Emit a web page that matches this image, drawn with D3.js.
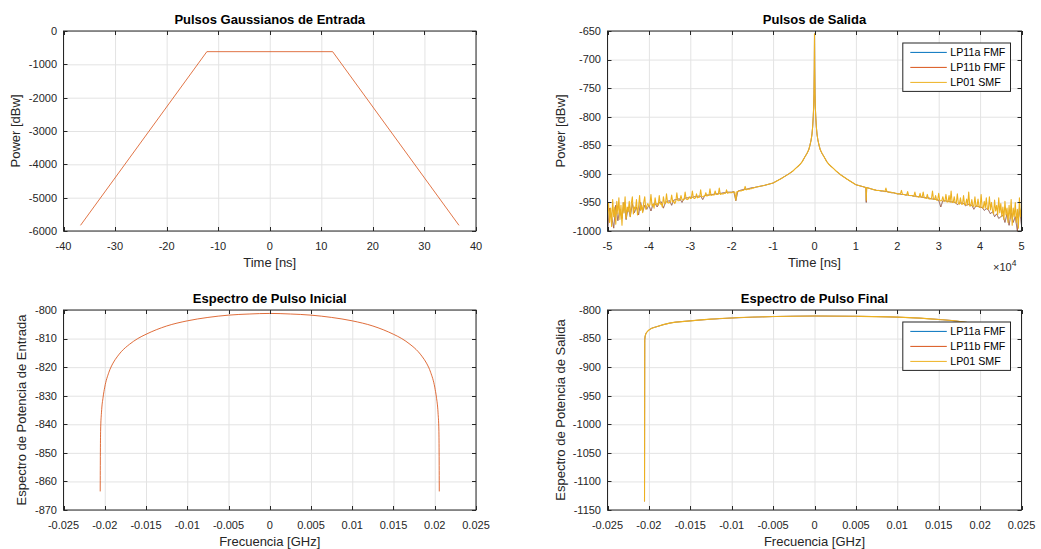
<!DOCTYPE html>
<html>
<head>
<meta charset="utf-8">
<script src="https://cdn.jsdelivr.net/npm/d3@7"></script>
<style>
  html, body { margin: 0; padding: 0; background: #ffffff; }
  svg { display: block; font-family: "Liberation Sans", Arial, Helvetica, sans-serif; }
</style>
</head>
<body>
<svg id="fig" width="1041" height="549"></svg>
<script>
// ---------- Input Gaussian pulse (time in ns, power in dBw) ----------
const inputTime  = [-36.7, -12.2, 12.2, 36.7];
const inputPower = [-5830, -620, -620, -5830];

// ---------- Output pulses (time in ns) ----------
// noisy tails: FMF modes sampled every 500 ns, SMF mode every 250 ns
const tailLeftTimeFMF  = d3.range(-50000, -14250, 500);
const tailRightTimeFMF = d3.range(14500, 50250, 500);
const tailLeftTimeSMF  = d3.range(-50000, -14375, 250);
const tailRightTimeSMF = d3.range(14500, 50125, 250);

const coreTime = [-14000, -12000, -10000, -8000, -6200, -5200, -4500, -3700, -3000, -2300,
                  -1800, -1400, -1100, -800, -600, -450, -300, -200, -120, -50, 0,
                  50, 120, 200, 300, 450, 600, 800, 1100, 1400, 1800, 2300,
                  3000, 3700, 4500, 5200, 6200, 8000, 10000, 12000, 12400, 12500, 12600, 14000];
const coreFMF  = [-923, -920, -916, -908, -900, -895, -890, -885, -879, -870,
                  -864, -858, -850, -840, -830, -818, -800, -782, -760, -715, -655,
                  -715, -760, -782, -800, -818, -830, -840, -850, -858, -864, -870,
                  -879, -885, -890, -895, -901, -910, -919, -923, -924, -950, -924, -927];
const coreSMF  = [-923, -920, -916, -908, -900, -895, -890, -885, -879, -870,
                  -864, -858, -850, -840, -830, -818, -800, -782, -760, -715, -655,
                  -715, -760, -782, -800, -818, -830, -840, -850, -858, -864, -870,
                  -879, -885, -890, -895, -901, -910, -919, -923, -924, -946, -924, -927];

const tailLeftFMF = [
  -1000, -960, -975, -995, -955, -982, -962, -978, -950, -980,
  -958, -975, -952, -968, -958, -972, -950, -966, -955, -962,
  -955, -965, -953, -952, -958, -950, -949, -960, -950, -948,
  -947, -955, -946, -945, -944, -944, -950, -943, -942, -942,
  -941, -941, -940, -940, -939, -939, -945, -938, -937, -937,
  -936, -936, -935, -935, -934, -934, -933, -933, -932, -932,
  -932, -931, -947, -930, -929, -928, -927, -927, -926, -925,
  -924, -924];
const tailRightFMF = [
  -928, -929, -929, -930, -930, -931, -931, -932, -933, -933,
  -934, -935, -935, -936, -936, -937, -937, -938, -938, -939,
  -939, -940, -940, -941, -941, -942, -942, -943, -944, -944,
  -945, -946, -958, -947, -947, -948, -948, -949, -949, -950,
  -954, -951, -951, -952, -956, -953, -954, -955, -962, -956,
  -957, -958, -959, -964, -961, -963, -970, -966, -975, -970,
  -978, -975, -972, -985, -970, -990, -968, -985, -975, -1000,
  -960, -990];
const tailLeftSMF = [
  -972, -950, -985, -960, -992, -945, -975, -958, -988, -948,
  -970, -942, -980, -955, -990, -950, -968, -940, -978, -958,
  -966, -948, -975, -952, -940, -970, -958, -962, -945, -972,
  -958, -938, -964, -955, -968, -950, -940, -962, -956, -952,
  -957, -954, -936, -956, -953, -960, -942, -954, -952, -955,
  -938, -953, -952, -958, -940, -951, -952, -935, -950, -951,
  -950, -949, -937, -949, -948, -952, -948, -933, -947, -947,
  -946, -938, -945, -946, -945, -932, -944, -945, -944, -940,
  -943, -943, -930, -942, -943, -942, -935, -942, -941, -941,
  -928, -940, -940, -939, -939, -933, -939, -938, -938, -926,
  -938, -937, -937, -937, -930, -936, -936, -936, -925, -936,
  -935, -935, -935, -934, -934, -928, -934, -933, -933, -933,
  -933, -932, -932, -932, -946, -931, -931, -930, -930, -930,
  -929, -929, -928, -922, -928, -927, -927, -927, -926, -926,
  -925, -925, -924];
const tailRightSMF = [
  -928, -928, -929, -929, -929, -929, -929, -930, -930, -930,
  -931, -925, -931, -932, -932, -932, -932, -933, -933, -933,
  -934, -934, -935, -935, -935, -935, -929, -936, -936, -936,
  -937, -937, -931, -938, -938, -938, -938, -939, -939, -932,
  -940, -940, -940, -941, -934, -941, -941, -932, -942, -942,
  -943, -936, -943, -944, -944, -944, -930, -945, -945, -938,
  -946, -946, -934, -947, -947, -947, -940, -948, -948, -936,
  -949, -949, -938, -950, -930, -950, -950, -940, -951, -951,
  -935, -952, -953, -942, -953, -953, -938, -954, -954, -944,
  -955, -932, -956, -956, -945, -956, -957, -940, -957, -957,
  -944, -958, -959, -936, -959, -960, -948, -960, -942, -961,
  -962, -940, -963, -950, -964, -970, -946, -965, -955, -972,
  -942, -968, -952, -975, -958, -980, -948, -972, -960, -985,
  -955, -978, -945, -990, -960, -975, -950, -985, -962, -995,
  -942, -975, -960];

// ---------- Input spectrum (GHz, dB) ----------
const specInFreq = [-0.02055, -0.02053, -0.0205, -0.0204, -0.0202, -0.02, -0.0195, -0.019, -0.0185, -0.018,
                    -0.017, -0.016, -0.015, -0.0125, -0.01, -0.0075, -0.005, -0.0025, 0,
                    0.0025, 0.005, 0.0075, 0.01, 0.0125, 0.015, 0.016, 0.017, 0.018, 0.0185,
                    0.019, 0.0195, 0.02, 0.0202, 0.0204, 0.0205, 0.02053, 0.02055];
const specInPower = [-863.5, -850, -842, -836, -830.5, -827, -821.8, -818.6, -816.4, -814.6,
                     -812, -810, -808.5, -805.6, -803.8, -802.6, -801.8, -801.4, -801.2,
                     -801.4, -801.8, -802.6, -803.8, -805.6, -808.5, -810, -812, -814.6, -816.4,
                     -818.6, -821.8, -827, -830.5, -836, -842, -850, -863.5];

// ---------- Output spectrum (GHz, dB) ----------
const specOutFreq  = [-0.02053, -0.0205, -0.0204, -0.0202, -0.0199, -0.019, -0.0175, -0.015, -0.0125, -0.01,
                      -0.005, 0, 0.005, 0.01, 0.015, 0.0175, 0.02, 0.0205];
const specOutPower = [-1135, -852, -843, -838, -834, -829, -823, -819, -816, -814,
                      -811.5, -810.5, -811, -812.5, -816.5, -820, -827, -840];

// ---------- Tick labels ----------
const ticksTimeIn   = [-40, -30, -20, -10, 0, 10, 20, 30, 40];
const ticksPowerIn  = [0, -1000, -2000, -3000, -4000, -5000, -6000];
const ticksTimeOut  = [-50000, -40000, -30000, -20000, -10000, 0, 10000, 20000, 30000, 40000, 50000];
const labelsTimeOut = ["-5", "-4", "-3", "-2", "-1", "0", "1", "2", "3", "4", "5"];
const ticksPowerOut = [-650, -700, -750, -800, -850, -900, -950, -1000];
const ticksFreq     = [-0.025, -0.02, -0.015, -0.01, -0.005, 0, 0.005, 0.01, 0.015, 0.02, 0.025];
const labelsFreq    = ["-0.025", "-0.02", "-0.015", "-0.01", "-0.005", "0", "0.005", "0.01", "0.015", "0.02", "0.025"];
const ticksSpecIn   = [-800, -810, -820, -830, -840, -850, -860, -870];
const ticksSpecOut  = [-800, -850, -900, -950, -1000, -1050, -1100, -1150];

const seriesNames  = ["LP11a FMF", "LP11b FMF", "LP01 SMF"];
const seriesColors = ["#0072BD", "#D95319", "#EDB120"];
const seriesWidths = [0.5, 0.6, 1.1];

// ---------- Figure ----------
const svg = d3.select("#fig");
const AXIS = "#262626";
const GRID = "#e3e3e3";

function panel(cfg) {
  const { left, right, top, bottom } = cfg.box;
  const x = d3.scaleLinear().domain(cfg.xDomain).range([left, right]);
  const y = d3.scaleLinear().domain(cfg.yDomain).range([bottom, top]);
  const g = svg.append("g");
  const id = "clip" + cfg.key;
  svg.append("clipPath").attr("id", id)
    .append("rect").attr("x", left).attr("y", top).attr("width", right - left).attr("height", bottom - top);

  // grid
  g.append("g").attr("transform", `translate(0,${bottom})`)
    .call(d3.axisBottom(x).tickValues(cfg.xTicks).tickSize(-(bottom - top)).tickFormat(""))
    .call(s => { s.select(".domain").remove(); s.selectAll("line").attr("stroke", GRID); });
  g.append("g").attr("transform", `translate(${left},0)`)
    .call(d3.axisLeft(y).tickValues(cfg.yTicks).tickSize(-(right - left)).tickFormat(""))
    .call(s => { s.select(".domain").remove(); s.selectAll("line").attr("stroke", GRID); });

  // data
  const dg = g.append("g").attr("clip-path", `url(#${id})`);
  const line = d3.line().x(d => x(d[0])).y(d => y(d[1])).curve(cfg.curve || d3.curveLinear);
  cfg.series.forEach(s => {
    dg.append("path").datum(s.points)
      .attr("d", line).attr("fill", "none")
      .attr("stroke", s.color).attr("stroke-width", s.width || 1)
      .attr("stroke-opacity", s.opacity || 1)
      .attr("stroke-linejoin", "round");
  });

  // ticks on all four sides, pointing inward
  const tk = 4;
  const xLab = cfg.xLabels || cfg.xTicks.map(String);
  const yLab = cfg.yLabels || cfg.yTicks.map(String);
  const ax = g.append("g").attr("font-size", 11).attr("fill", AXIS);
  cfg.xTicks.forEach((v, i) => {
    const px = Math.round(x(v)) + 0.5;
    ax.append("line").attr("x1", px).attr("x2", px).attr("y1", bottom).attr("y2", bottom - tk).attr("stroke", AXIS);
    ax.append("line").attr("x1", px).attr("x2", px).attr("y1", top).attr("y2", top + tk).attr("stroke", AXIS);
    ax.append("text").attr("x", x(v)).attr("y", bottom + 18.5).attr("text-anchor", "middle").text(xLab[i]);
  });
  cfg.yTicks.forEach((v, i) => {
    const py = Math.round(y(v)) + 0.5;
    ax.append("line").attr("x1", left).attr("x2", left + tk).attr("y1", py).attr("y2", py).attr("stroke", AXIS);
    ax.append("line").attr("x1", right).attr("x2", right - tk).attr("y1", py).attr("y2", py).attr("stroke", AXIS);
    ax.append("text").attr("x", left - 6.5).attr("y", y(v)).attr("dy", "0.35em").attr("text-anchor", "end").text(yLab[i]);
  });
  g.append("rect").attr("x", left).attr("y", top).attr("width", right - left).attr("height", bottom - top)
    .attr("fill", "none").attr("stroke", AXIS).attr("stroke-width", 1);

  // title and axis labels
  g.append("text").attr("x", (left + right) / 2).attr("y", top - 7)
    .attr("text-anchor", "middle").attr("font-size", 13).attr("font-weight", "bold").attr("fill", "#000")
    .text(cfg.title);
  g.append("text").attr("x", (left + right) / 2).attr("y", bottom + 36)
    .attr("text-anchor", "middle").attr("font-size", 13).attr("fill", AXIS).text(cfg.xTitle);
  g.append("text")
    .attr("transform", `translate(${cfg.yTitleX},${(top + bottom) / 2}) rotate(-90)`)
    .attr("text-anchor", "middle").attr("font-size", 13).attr("fill", AXIS).text(cfg.yTitle);

  // legend
  if (cfg.legend) {
    const lw = 107.7, lh = 48.4;
    const lx = right - 11.5 - lw, ly = top + 11.5;
    const lg = g.append("g");
    lg.append("rect").attr("x", lx + 0.5).attr("y", ly + 0.5).attr("width", lw).attr("height", lh)
      .attr("fill", "#fff").attr("stroke", AXIS).attr("stroke-width", 1);
    seriesNames.forEach((n, i) => {
      const yy = ly + 9.9 + i * 15;
      lg.append("line").attr("x1", lx + 8).attr("x2", lx + 44.5).attr("y1", yy).attr("y2", yy)
        .attr("stroke", seriesColors[i]).attr("stroke-width", 1);
      lg.append("text").attr("x", lx + 48).attr("y", yy).attr("dy", "0.36em")
        .attr("font-size", 10.7).attr("fill", "#000").text(n);
    });
  }
  return { x, y, g };
}

const zip = (a, b) => a.map((v, i) => [v, b[i]]);

// top-left: input pulse
panel({
  key: "a", box: { left: 63.5, right: 476, top: 31, bottom: 231 },
  xDomain: [-40, 40], yDomain: [-6000, 0],
  xTicks: ticksTimeIn, yTicks: ticksPowerIn,
  title: "Pulsos Gaussianos de Entrada", xTitle: "Time [ns]", yTitle: "Power [dBw]", yTitleX: 19.5,
  series: [{ color: seriesColors[1], width: 1, opacity: 0.8, points: zip(inputTime, inputPower) }]
});

// top-right: output pulses
const outTimeFMF = tailLeftTimeFMF.concat(coreTime, tailRightTimeFMF);
const outTimeSMF = tailLeftTimeSMF.concat(coreTime, tailRightTimeSMF);
const outFMF = tailLeftFMF.concat(coreFMF, tailRightFMF);
const outSMF = tailLeftSMF.concat(coreSMF, tailRightSMF);
const p2 = panel({
  key: "b", box: { left: 607.5, right: 1021.5, top: 31, bottom: 231 },
  xDomain: [-50000, 50000], yDomain: [-1000, -650],
  xTicks: ticksTimeOut, xLabels: labelsTimeOut, yTicks: ticksPowerOut,
  title: "Pulsos de Salida", xTitle: "Time [ns]", yTitle: "Power [dBw]", yTitleX: 564.5,
  series: [
    { color: seriesColors[0], width: seriesWidths[0], points: zip(outTimeFMF, outFMF) },
    { color: seriesColors[1], width: seriesWidths[1], points: zip(outTimeFMF, outFMF) },
    { color: seriesColors[2], width: seriesWidths[2], points: zip(outTimeSMF, outSMF) }
  ],
  legend: true
});
// exponent marker for the time axis
const ex = p2.g.append("text").attr("x", 993).attr("y", 270.5).attr("font-size", 11).attr("fill", AXIS);
ex.append("tspan").text("\u00d710");
ex.append("tspan").attr("dy", -5).attr("font-size", 8.5).text("4");

// bottom-left: input spectrum
panel({
  key: "c", box: { left: 63.5, right: 476, top: 310, bottom: 510 },
  xDomain: [-0.025, 0.025], yDomain: [-870, -800],
  xTicks: ticksFreq, xLabels: labelsFreq, yTicks: ticksSpecIn,
  title: "Espectro de Pulso Inicial", xTitle: "Frecuencia [GHz]", yTitle: "Espectro de Potencia de Entrada", yTitleX: 25.5,
  curve: d3.curveMonotoneX,
  series: [{ color: seriesColors[1], width: 1, opacity: 0.85, points: zip(specInFreq, specInPower) }]
});

// bottom-right: output spectrum
panel({
  key: "d", box: { left: 607.5, right: 1021.5, top: 310, bottom: 510 },
  xDomain: [-0.025, 0.025], yDomain: [-1150, -800],
  xTicks: ticksFreq, xLabels: labelsFreq, yTicks: ticksSpecOut,
  title: "Espectro de Pulso Final", xTitle: "Frecuencia [GHz]", yTitle: "Espectro de Potencia de Salida", yTitleX: 564.5,
  curve: d3.curveMonotoneX,
  series: [
    { color: seriesColors[0], width: seriesWidths[0], points: zip(specOutFreq, specOutPower) },
    { color: seriesColors[1], width: seriesWidths[1], points: zip(specOutFreq, specOutPower) },
    { color: seriesColors[2], width: seriesWidths[2], points: zip(specOutFreq, specOutPower) }
  ],
  legend: true
});
</script>
</body>
</html>
